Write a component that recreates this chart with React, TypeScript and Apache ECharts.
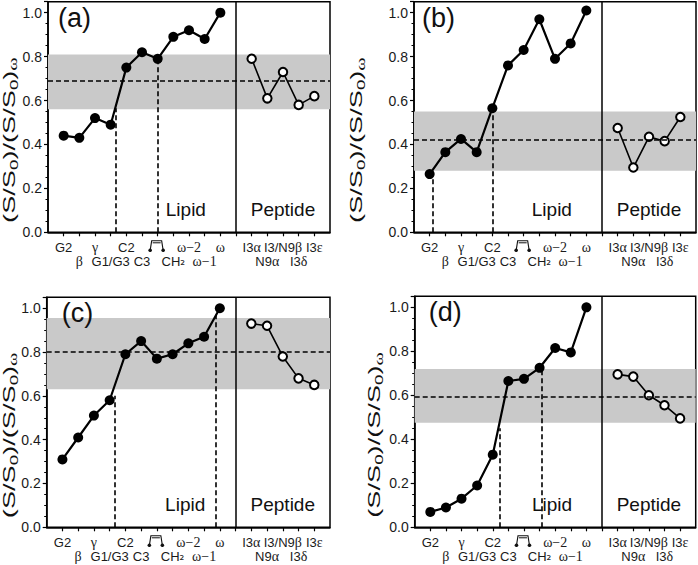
import React, { useEffect, useRef } from 'react';
import * as echarts from 'echarts';

// ---- categories / tick labels ----
const lipidLabels = ['G2', 'β', 'γ', 'G1/G3', 'C2', 'C3', '', 'CH2', 'ω−2', 'ω−1', 'ω'];
const peptideLabels = ['I3α', 'N9α', 'I3/N9β', 'I3δ', 'I3ε'];
const lipidPos = [0, 1, 2, 3, 4, 5, 6, 7, 8, 9, 10];
const peptidePos = [12, 13, 14, 15, 16];
const dividerPos = 11;
const bracketPos = 6;
const yTicks = [0, 0.2, 0.4, 0.6, 0.8, 1.0];
const panelNames = ['(a)', '(b)', '(c)', '(d)'];

// ---- panel (a) ----
const lipidA = [0.44, 0.43, 0.52, 0.49, 0.75, 0.82, 0.79, 0.89, 0.92, 0.88, 1.0];
const peptideA = [0.79, 0.61, 0.73, 0.58, 0.62];
const bandA = [0.56, 0.81];
const meanA = 0.69;
const guidesA = [[3.35, 0.565], [6.0, 0.79]];

// ---- panel (b) ----
const lipidB = [0.265, 0.365, 0.425, 0.365, 0.565, 0.76, 0.83, 0.97, 0.79, 0.86, 1.01];
const peptideB = [0.475, 0.295, 0.435, 0.415, 0.525];
const bandB = [0.28, 0.55];
const meanB = 0.42;
const guidesB = [[0.2, 0.275], [4.0, 0.55]];

// ---- panel (c) ----
const lipidC = [0.31, 0.41, 0.51, 0.58, 0.79, 0.85, 0.77, 0.79, 0.84, 0.87, 1.0];
const peptideC = [0.93, 0.92, 0.78, 0.68, 0.65];
const bandC = [0.63, 0.955];
const meanC = 0.8;
const guidesC = [[3.35, 0.6], [9.75, 0.97]];

// ---- panel (d) ----
const lipidD = [0.07, 0.09, 0.13, 0.19, 0.33, 0.665, 0.675, 0.725, 0.815, 0.795, 1.0];
const peptideD = [0.695, 0.685, 0.6, 0.555, 0.495];
const bandD = [0.475, 0.72];
const meanD = 0.595;
const guidesD = [[4.45, 0.45], [7.15, 0.72]];

const panels = [
  { lipid: lipidA, peptide: peptideA, band: bandA, mean: meanA, guides: guidesA },
  { lipid: lipidB, peptide: peptideB, band: bandB, mean: meanB, guides: guidesB },
  { lipid: lipidC, peptide: peptideC, band: bandC, mean: meanC, guides: guidesC },
  { lipid: lipidD, peptide: peptideD, band: bandD, mean: meanD, guides: guidesD },
];

// layout (pixels)
const grids = [
  { left: 48, top: 1.7, width: 282, height: 230.6 },
  { left: 414, top: 1.7, width: 282, height: 230.6 },
  { left: 46.7, top: 297.3, width: 283.3, height: 230 },
  { left: 414.7, top: 296.3, width: 281, height: 231 },
];
const nameOffsets = [10, 8, 15, 14];
const yTitleX = [9.5, 357, 9.5, 375];
const X_MIN = -1;
const X_MAX = 17;
const Y_MAX = 1.05;

const SANS = '"Liberation Sans", Arial, sans-serif';
const SERIF = '"Liberation Serif", "Times New Roman", serif';

function toRich(label: string): string {
  if (!label) return '';
  if (label === 'CH2') return '{n|CH}{s|₂}';
  if (label.startsWith('ω')) return '{g|' + label + '}';
  let out = '';
  let cur = '';
  let curG: boolean | null = null;
  for (const ch of label) {
    const g = 'αβγδεω'.includes(ch);
    if (curG !== null && g !== curG) {
      out += '{' + (curG ? 'g' : 'n') + '|' + cur + '}';
      cur = '';
    }
    cur += ch;
    curG = g;
  }
  if (cur) out += '{' + (curG ? 'g' : 'n') + '|' + cur + '}';
  return out;
}

function xLabel(v: number): string {
  const r = Math.round(v);
  const li = lipidPos.indexOf(r);
  if (li >= 0) {
    const t = toRich(lipidLabels[li]);
    return li % 2 === 1 ? '\n' + t : t;
  }
  const pi = peptidePos.indexOf(r);
  if (pi >= 0) {
    const t = toRich(peptideLabels[pi]);
    return pi % 2 === 1 ? '\n' + t : t;
  }
  return '';
}

const xRich = {
  n: { fontFamily: SANS, fontSize: 13, lineHeight: 14, color: '#1a1a1a' },
  g: { fontFamily: SERIF, fontSize: 14, lineHeight: 14, color: '#1a1a1a' },
  s: { fontFamily: '"DejaVu Sans", sans-serif', fontSize: 12, lineHeight: 14, color: '#1a1a1a' },
};

function buildOption() {
  const grid: any[] = [];
  const xAxis: any[] = [];
  const yAxis: any[] = [];
  const series: any[] = [];
  panels.forEach((p, i) => {
    const g = grids[i];
    grid.push({
      left: g.left, top: g.top, width: g.width, height: g.height,
      show: true, borderColor: '#000', borderWidth: 1.5, containLabel: false,
    });
    xAxis.push({
      type: 'value', gridIndex: i, min: X_MIN, max: X_MAX, interval: 1,
      axisLine: { show: true, onZero: false, lineStyle: { color: '#000', width: 1.5 } },
      axisTick: { show: true, length: 4, lineStyle: { color: '#000', width: 1.2 } },
      splitLine: { show: false },
      axisLabel: {
        show: true, margin: 8, formatter: xLabel, rich: xRich,
        fontSize: 13, lineHeight: 14, color: '#1a1a1a', fontFamily: SANS,
        showMinLabel: false, showMaxLabel: false,
      },
    });
    yAxis.push({
      type: 'value', gridIndex: i, min: 0, max: Y_MAX, interval: 0.2,
      axisLine: { show: true, onZero: false, lineStyle: { color: '#000', width: 1.5 } },
      axisTick: { show: true, length: 4, lineStyle: { color: '#000', width: 1.2 } },
      minorTick: { show: true, splitNumber: 4, length: 2.5, lineStyle: { color: '#000', width: 1 } },
      splitLine: { show: false },
      axisLabel: {
        margin: 6, fontSize: 14, color: '#1a1a1a', fontFamily: SANS,
        formatter: (v: number) => {
          const hit = yTicks.find((t) => Math.abs(t - v) < 1e-6);
          return hit === undefined ? '' : hit.toFixed(1);
        },
      },
    });
    // grey band
    series.push({
      type: 'line', xAxisIndex: i, yAxisIndex: i, data: [], z: 1, silent: true,
      markArea: {
        silent: true,
        itemStyle: { color: '#c9c9c9' },
        data: [[{ coord: [X_MIN, p.band[0]] }, { coord: [X_MAX, p.band[1]] }]],
      },
    });
    // reference lines
    series.push({
      type: 'line', xAxisIndex: i, yAxisIndex: i, data: [], z: 2, silent: true,
      markLine: {
        silent: true, symbol: 'none', animation: false,
        label: { show: false },
        lineStyle: { color: '#000', width: 1.6, type: [5, 3] },
        data: [
          [{ coord: [X_MIN, p.mean] }, { coord: [X_MAX, p.mean] }],
          ...p.guides.map((gd) => [{ coord: [gd[0], 0] }, { coord: [gd[0], gd[1]] }]),
          [
            { coord: [dividerPos, 0], lineStyle: { type: 'solid', width: 1.5, color: '#000' } },
            { coord: [dividerPos, Y_MAX] },
          ],
        ],
      },
    });
    series.push({
      type: 'line', xAxisIndex: i, yAxisIndex: i, z: 4,
      data: lipidPos.map((x, k) => [x, p.lipid[k]]),
      symbol: 'circle', symbolSize: 10,
      itemStyle: { color: '#000' },
      lineStyle: { color: '#000', width: 2.2 },
    });
    series.push({
      type: 'line', xAxisIndex: i, yAxisIndex: i, z: 4,
      data: peptidePos.map((x, k) => [x, p.peptide[k]]),
      symbol: 'circle', symbolSize: 8.5,
      itemStyle: { color: '#fff', borderColor: '#000', borderWidth: 2 },
      lineStyle: { color: '#000', width: 1.6 },
    });
  });
  return {
    animation: false,
    backgroundColor: '#fff',
    textStyle: { fontFamily: SANS },
    grid, xAxis, yAxis, series,
  };
}

function buildGraphics(chart: any) {
  const els: any[] = [];
  panels.forEach((_p, i) => {
    const g = grids[i];
    els.push({
      type: 'text', x: g.left + nameOffsets[i], y: g.top + 16, z: 10,
      style: { text: panelNames[i], fontSize: 27, fontFamily: SANS, fill: '#111', verticalAlign: 'middle' },
    });
    const lp = chart.convertToPixel({ gridIndex: i }, [7.8, 0.105]);
    els.push({
      type: 'text', x: lp[0], y: lp[1], z: 10,
      style: { text: 'Lipid', fontSize: 19, fontFamily: SANS, fill: '#111', align: 'center', verticalAlign: 'middle' },
    });
    const pp = chart.convertToPixel({ gridIndex: i }, [14, 0.105]);
    els.push({
      type: 'text', x: pp[0], y: pp[1], z: 10,
      style: { text: 'Peptide', fontSize: 19, fontFamily: SANS, fill: '#111', align: 'center', verticalAlign: 'middle' },
    });
    // y-axis title (stretched along its length like the reference)
    els.push({
      type: 'text', x: yTitleX[i], y: g.top + g.height * 0.6, rotation: Math.PI / 2,
      scaleX: 1.7, scaleY: 1, z: 10,
      style: {
        text: '{n|(S/S}{s|0}{n|)/(S/S}{s|0}{n|)}{w|ω}',
        align: 'center', verticalAlign: 'middle',
        rich: {
          n: { fontSize: 16, fontFamily: SANS, fill: '#111', lineHeight: 20 },
          s: { fontSize: 11, fontFamily: SANS, fill: '#111', lineHeight: 10, verticalAlign: 'bottom' },
          w: { fontSize: 12, fontFamily: SERIF, fill: '#111', lineHeight: 10, verticalAlign: 'bottom' },
        },
      },
    });
    // bracket glyph under tick
    const bp = chart.convertToPixel({ gridIndex: i }, [bracketPos, 0]);
    const cx = bp[0] - 1;
    const by = bp[1];
    els.push({
      type: 'polyline', z: 10,
      shape: { points: [[cx - 6.5, by + 18], [cx - 5, by + 8.5], [cx + 5, by + 8.5], [cx + 6.5, by + 18]] },
      style: { stroke: '#111', lineWidth: 1.1, fill: null },
    });
    els.push({
      type: 'line', z: 10,
      shape: { x1: cx - 4, y1: by + 10.5, x2: cx + 4, y2: by + 10.5 },
      style: { stroke: '#111', lineWidth: 1 },
    });
    els.push({ type: 'circle', z: 10, shape: { cx: cx - 6.5, cy: by + 18, r: 1.8 }, style: { fill: '#111' } });
    els.push({ type: 'circle', z: 10, shape: { cx: cx + 6.5, cy: by + 18, r: 1.8 }, style: { fill: '#111' } });
  });
  return els;
}

export default function App() {
  const ref = useRef<HTMLDivElement>(null);
  useEffect(() => {
    document.body.style.margin = '0';
    const chart = echarts.init(ref.current!, null, { renderer: 'svg' });
    chart.setOption(buildOption());
    chart.setOption({ graphic: buildGraphics(chart) });
    return () => chart.dispose();
  }, []);
  return <div ref={ref} style={{ width: 698, height: 565, position: 'fixed', left: 0, top: 0 }} />;
}
